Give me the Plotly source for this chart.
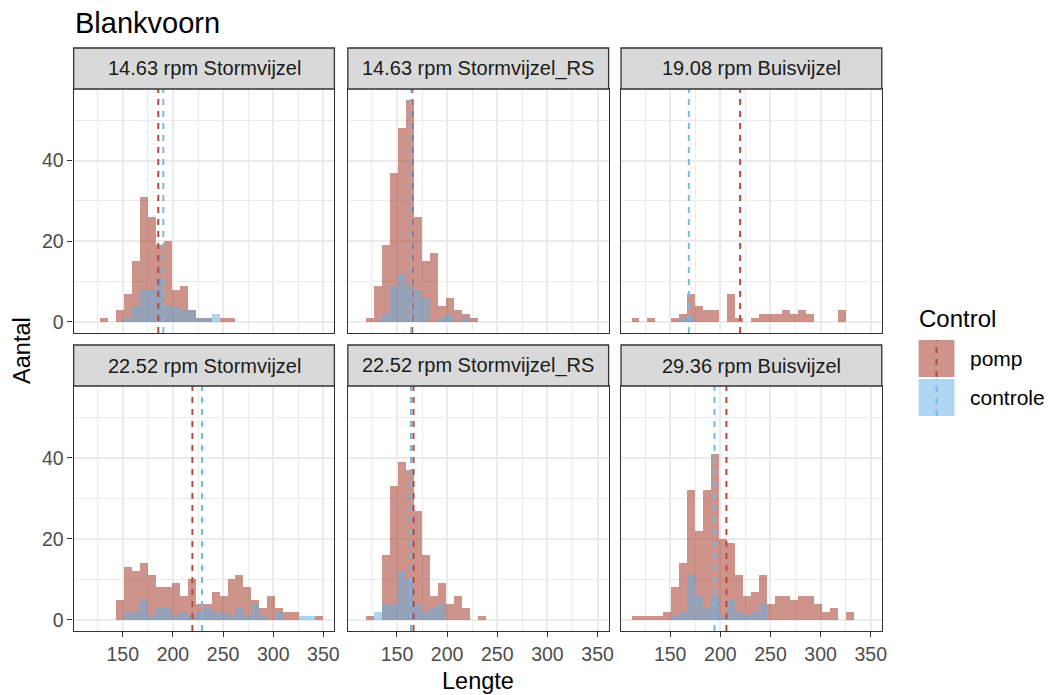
import plotly.graph_objects as go

W, H = 1051, 695

# Facet labels (rpm + vijzel type)
facets = [
    "14.63 rpm Stormvijzel", "14.63 rpm Stormvijzel_RS", "19.08 rpm Buisvijzel",
    "22.52 rpm Stormvijzel", "22.52 rpm Stormvijzel_RS", "29.36 rpm Buisvijzel",
]

# Lengte histogram: 30 bins shared by all facets
bin_left = 111.5
bin_width = 7.92
bin_index = list(range(30))

# Counts per bin, group "pomp"
pomp_1463_storm = [0, 0, 1, 0, 3, 7, 15, 31, 26, 19, 20, 8, 9, 3, 1, 1, 0, 1, 1, 0, 0, 0, 0, 0, 0, 0, 0, 0, 0, 0]
pomp_1463_storm_rs = [0, 1, 9, 19, 37, 48, 55, 26, 15, 17, 4, 6, 3, 2, 1, 0, 0, 0, 0, 0, 0, 0, 0, 0, 0, 0, 0, 0, 0, 0]
pomp_1908_buis = [1, 0, 1, 0, 0, 1, 2, 7, 4, 3, 3, 0, 7, 1, 0, 1, 2, 2, 2, 3, 2, 3, 2, 0, 0, 0, 3, 0, 0, 0]
pomp_2252_storm = [0, 0, 0, 0, 5, 13, 12, 14, 11, 8, 8, 9, 6, 10, 4, 4, 7, 6, 10, 11, 8, 5, 3, 6, 3, 2, 2, 0, 0, 1]
pomp_2252_storm_rs = [0, 1, 0, 16, 33, 39, 37, 27, 16, 6, 9, 4, 6, 3, 0, 1, 0, 0, 0, 0, 0, 0, 0, 0, 0, 0, 0, 0, 0, 0]
pomp_2936_buis = [1, 1, 1, 1, 2, 8, 14, 32, 22, 32, 41, 20, 19, 11, 6, 7, 11, 4, 6, 6, 5, 6, 6, 4, 2, 3, 0, 2, 0, 0]

# Counts per bin, group "controle"
ctrl_1463_storm = [0, 0, 0, 0, 0, 1, 4, 8, 8, 11, 4, 4, 3, 3, 1, 1, 2, 0, 0, 0, 0, 0, 0, 0, 0, 0, 0, 0, 0, 0]
ctrl_1463_storm_rs = [0, 0, 0, 2, 9, 12, 9, 8, 6, 0, 1, 2, 0, 1, 0, 0, 0, 0, 0, 0, 0, 0, 0, 0, 0, 0, 0, 0, 0, 0]
ctrl_1908_buis = [0, 0, 0, 0, 0, 0, 1, 1, 0, 0, 0, 0, 0, 0, 0, 0, 0, 0, 0, 0, 0, 0, 0, 0, 0, 0, 0, 0, 0, 0]
ctrl_2252_storm = [0, 0, 0, 0, 0, 2, 2, 5, 1, 3, 3, 1, 2, 1, 2, 3, 2, 2, 1, 3, 1, 4, 1, 0, 2, 0, 0, 1, 1, 0]
ctrl_2252_storm_rs = [0, 0, 2, 4, 4, 12, 10, 4, 2, 3, 4, 0, 0, 0, 0, 0, 0, 0, 0, 0, 0, 0, 0, 0, 0, 0, 0, 0, 0, 0]
ctrl_2936_buis = [0, 0, 0, 0, 0, 1, 2, 11, 6, 3, 6, 1, 5, 2, 1, 2, 4, 0, 0, 0, 0, 0, 0, 0, 0, 0, 0, 0, 0, 0]

# Mean Lengte per facet
pomp_mean = [185.4, 165.2, 219.8, 219.4, 166.5, 206.1]
ctrl_mean = [190.4, 164.2, 168.6, 229.0, 164.0, 194.2]

x_ticks = [150, 200, 250, 300, 350]
x_minor = [125, 175, 225, 275, 325]
y_ticks = [0, 20, 40]
y_minor = [10, 30, 50]

groups = ["pomp", "controle"]
pomp_sets = [pomp_1463_storm, pomp_1463_storm_rs, pomp_1908_buis,
             pomp_2252_storm, pomp_2252_storm_rs, pomp_2936_buis]
ctrl_sets = [ctrl_1463_storm, ctrl_1463_storm_rs, ctrl_1908_buis,
             ctrl_2252_storm, ctrl_2252_storm_rs, ctrl_2936_buis]

POMP_FILL = "rgba(165,60,45,0.55)"
CTRL_FILL = "rgba(93,173,225,0.5)"
POMP_LINE = "rgb(180,72,58)"
CTRL_LINE = "rgb(110,188,235)"
BORDER = "#333333"
GRID = "#EBEBEB"
FONT = "Liberation Sans, Arial, sans-serif"

# pixel layout of the facet grid
col_px = [(74, 336), (349.5, 611.5), (624, 886)]
panel_py = [(89, 333), (386, 631)]
strip_py = [(48, 89), (345, 386)]


def fx(px):
    return px / W


def fy(py):
    return 1 - py / H


centers = [bin_left + bin_width * (k + 0.5) for k in bin_index]

fig = go.Figure()
shapes = []
annotations = []

for i, name in enumerate(facets):
    r, c = divmod(i, 3)
    n = i + 1
    xa = "x" if n == 1 else f"x{n}"
    ya = "y" if n == 1 else f"y{n}"

    fig.add_trace(go.Bar(
        x=centers, y=pomp_sets[i], width=bin_width, xaxis=xa, yaxis=ya,
        marker=dict(color=POMP_FILL, line=dict(width=0)), name="pomp",
        showlegend=False,
    ))
    fig.add_trace(go.Bar(
        x=centers, y=ctrl_sets[i], width=bin_width, xaxis=xa, yaxis=ya,
        marker=dict(color=CTRL_FILL, line=dict(width=0)), name="controle",
        showlegend=False,
    ))

    x0, x1 = col_px[c]
    p0, p1 = panel_py[r]
    s0, s1 = strip_py[r]

    fig.layout[f"xaxis{'' if n == 1 else n}"] = dict(
        domain=[fx(x0), fx(x1)], anchor=ya, range=[101, 361],
        tickmode="array", tickvals=x_ticks,
        showticklabels=(r == 1), ticks="outside" if r == 1 else "",
        ticklen=5, tickwidth=1.2, tickcolor=BORDER,
        tickfont=dict(family=FONT, size=19.5, color="#4D4D4D"),
        showline=True, mirror=True, linecolor=BORDER, linewidth=1.3,
        showgrid=True, gridcolor=GRID, gridwidth=1.6,
        minor=dict(tickmode="array", tickvals=x_minor, showgrid=True,
                   gridcolor=GRID, gridwidth=0.9),
        zeroline=False, fixedrange=True,
    )
    fig.layout[f"yaxis{'' if n == 1 else n}"] = dict(
        domain=[fy(p1), fy(p0)], anchor=xa, range=[-2.75, 57.75],
        tickmode="array", tickvals=y_ticks,
        showticklabels=(c == 0), ticks="outside" if c == 0 else "",
        ticklen=5, tickwidth=1.2, tickcolor=BORDER,
        tickfont=dict(family=FONT, size=19.5, color="#4D4D4D"),
        showline=True, mirror=True, linecolor=BORDER, linewidth=1.3,
        showgrid=True, gridcolor=GRID, gridwidth=1.6,
        minor=dict(tickmode="array", tickvals=y_minor, showgrid=True,
                   gridcolor=GRID, gridwidth=0.9),
        zeroline=False, fixedrange=True,
    )

    # dashed mean lines
    for m, col in ((pomp_mean[i], POMP_LINE), (ctrl_mean[i], CTRL_LINE)):
        shapes.append(dict(
            type="line", xref=xa, yref=f"{ya} domain", x0=m, x1=m, y0=0, y1=1,
            line=dict(color=col, width=2, dash="6px,6px"), layer="above",
        ))

    # facet strip
    shapes.append(dict(
        type="rect", xref="paper", yref="paper",
        x0=fx(x0), x1=fx(x1), y0=fy(s1), y1=fy(s0),
        fillcolor="#D9D9D9", line=dict(color=BORDER, width=1.3), layer="above",
    ))
    annotations.append(dict(
        text=name, xref="paper", yref="paper", x=fx((x0 + x1) / 2),
        y=fy((s0 + s1) / 2), xanchor="center", yanchor="middle",
        showarrow=False, font=dict(family=FONT, size=20, color="#1A1A1A"),
    ))

# title and axis titles
annotations.append(dict(
    text="Blankvoorn", xref="paper", yref="paper", x=fx(73), y=fy(23),
    xanchor="left", yanchor="middle", showarrow=False,
    font=dict(family=FONT, size=29, color="#000000"),
))
annotations.append(dict(
    text="Lengte", xref="paper", yref="paper", x=fx(480), y=fy(681),
    xanchor="center", yanchor="middle", showarrow=False,
    font=dict(family=FONT, size=23.5, color="#000000"),
))
annotations.append(dict(
    text="Aantal", xref="paper", yref="paper", x=fx(22), y=fy(350),
    xanchor="center", yanchor="middle", showarrow=False, textangle=-90,
    font=dict(family=FONT, size=23.5, color="#000000"),
))

# legend "Control"
annotations.append(dict(
    text="Control", xref="paper", yref="paper", x=fx(921), y=fy(318),
    xanchor="left", yanchor="middle", showarrow=False,
    font=dict(family=FONT, size=24, color="#000000"),
))
key_rows = [(340, 377), (379, 416)]
for (k0, k1), label, fill, line in zip(key_rows, groups, (POMP_FILL, CTRL_FILL),
                                        (POMP_LINE, CTRL_LINE)):
    shapes.append(dict(
        type="rect", xref="paper", yref="paper",
        x0=fx(923), x1=fx(959), y0=fy(k1), y1=fy(k0),
        fillcolor=fill, line=dict(width=0),
    ))
    shapes.append(dict(
        type="line", xref="paper", yref="paper",
        x0=fx(941), x1=fx(941), y0=fy(k1), y1=fy(k0),
        line=dict(color=line, width=2, dash="6px,6px"),
    ))
    annotations.append(dict(
        text=label, xref="paper", yref="paper", x=fx(973), y=fy((k0 + k1) / 2),
        xanchor="left", yanchor="middle", showarrow=False,
        font=dict(family=FONT, size=21, color="#000000"),
    ))

fig.update_layout(
    width=W, height=H, margin=dict(l=0, r=0, t=0, b=0),
    paper_bgcolor="white", plot_bgcolor="white",
    barmode="overlay", bargap=0, showlegend=False,
    shapes=shapes, annotations=annotations,
)

fig.write_html("out.html")
